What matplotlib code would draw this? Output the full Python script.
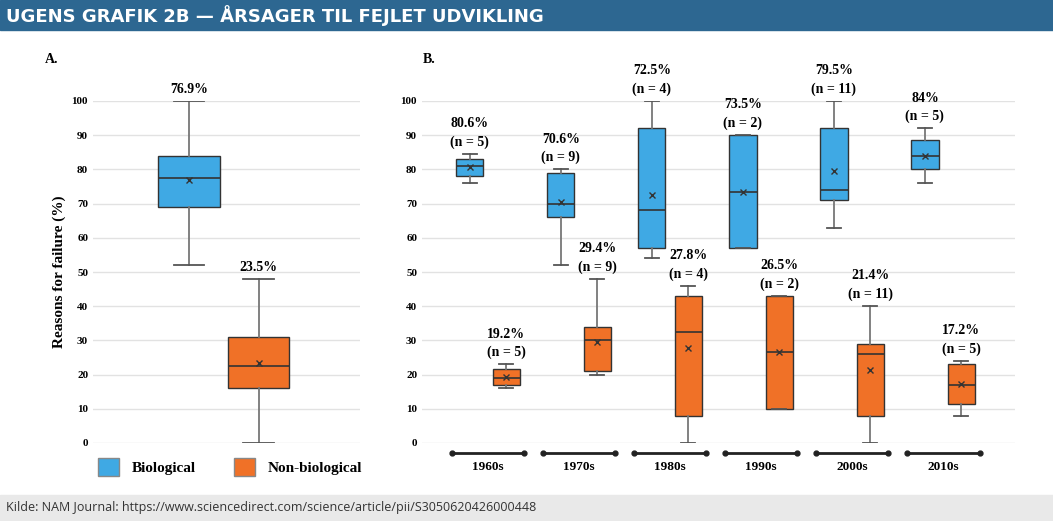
import numpy as np
import matplotlib.pyplot as plt
from matplotlib.patches import Patch, Rectangle

# panel A stats: whislo, q1, med, q3, whishi, mean
bio_all = [52, 69, 77.5, 84, 100, 76.9]
non_all = [0, 16, 22.5, 31, 48, 23.5]

decades = ["1960s", "1970s", "1980s", "1990s", "2000s", "2010s"]
bio_lo = [76, 52, 54, 57, 63, 76]
bio_q1 = [78, 66, 57, 57, 71, 80]
bio_med = [81, 70, 68, 73.5, 74, 84]
bio_q3 = [83, 79, 92, 90, 92, 88.5]
bio_hi = [84.5, 80, 100, 90, 100, 92]
bio_mean = [80.6, 70.6, 72.5, 73.5, 79.5, 84]
non_lo = [16, 20, 0, 10, 0, 8]
non_q1 = [17, 21, 8, 10, 8, 11.5]
non_med = [19, 30, 32.5, 26.5, 26, 17]
non_q3 = [21.5, 34, 43, 43, 29, 23]
non_hi = [23, 48, 46, 43, 40, 24]
non_mean = [19.2, 29.4, 27.8, 26.5, 21.4, 17.2]
n_vals = [5, 9, 4, 2, 11, 5]

BLUE = "#3fa9e4"
ORANGE = "#f07127"
SERIF = ["Liberation Serif", "DejaVu Serif"]

def stat(lo, q1, med, q3, hi, mean):
    return dict(whislo=lo, q1=q1, med=med, q3=q3, whishi=hi, mean=mean, fliers=[])

def draw(ax, stats, pos, width, color):
    ax.bxp(stats, positions=pos, widths=width, patch_artist=True, showmeans=True,
           boxprops=dict(facecolor=color, edgecolor="#333333", linewidth=1),
           medianprops=dict(color="#333333", linewidth=1.2),
           whiskerprops=dict(color="#777777", linewidth=1.3),
           capprops=dict(color="#555555", linewidth=1.3),
           meanprops=dict(marker="x", markeredgecolor="#333333", markersize=4))

def style(ax):
    ax.set_ylim(0, 100)
    ax.set_yticks(range(0, 101, 10))
    ax.grid(axis="y", color="#e2e2e2", linewidth=1)
    ax.set_axisbelow(True)
    for s in ax.spines.values():
        s.set_visible(False)
    ax.tick_params(length=0, labelsize=8)
    for t in ax.get_yticklabels():
        t.set_fontfamily(SERIF)
        t.set_fontweight("bold")
    ax.set_xticks([])

fig = plt.figure(figsize=(10.53, 5.21), dpi=100)
W, H = 1053, 521
fig.patches.append(Rectangle((0, 1 - 30 / H), 1, 30 / H, transform=fig.transFigure,
                             color="#2d6791", zorder=0))
fig.patches.append(Rectangle((0, 0), 1, 26 / H, transform=fig.transFigure,
                             color="#e9e9e9", zorder=0))
fig.text(6 / W, 1 - 16 / H, "UGENS GRAFIK 2B — ÅRSAGER TIL FEJLET UDVIKLING", color="white",
         fontsize=13, fontweight="bold", va="center",
         family=["Liberation Sans Narrow", "DejaVu Sans"])
fig.text(6 / W, 13 / H, "Kilde: NAM Journal: https://www.sciencedirect.com/science/article/pii/S3050620426000448",
         fontsize=9, va="center", color="#333333", family=["Open Sans", "DejaVu Sans"])

y0, y1 = 1 - 443 / H, 1 - 101 / H
axA = fig.add_axes([93 / W, y0, (360 - 93) / W, y1 - y0])
axB = fig.add_axes([422 / W, y0, (1015 - 422) / W, y1 - y0])

# panel A
draw(axA, [stat(*bio_all)], [0.36], 0.23, BLUE)
draw(axA, [stat(*non_all)], [0.62], 0.23, ORANGE)
axA.set_xlim(0, 1)
style(axA)
axA.set_ylabel("Reasons for failure (%)", fontsize=11, fontweight="bold", family=SERIF)
for x, s in [(0.36, bio_all), (0.62, non_all)]:
    axA.text(x, s[4] + 1.5, f"{s[5]}%", ha="center", va="bottom", fontsize=10,
             fontweight="bold", family=SERIF)
axA.text(-0.18, 111, "A.", fontsize=10, fontweight="bold", family=SERIF,
         transform=axA.transData)

# panel B
xs = np.arange(len(decades))
bstats = [stat(*v) for v in zip(bio_lo, bio_q1, bio_med, bio_q3, bio_hi, bio_mean)]
nstats = [stat(*v) for v in zip(non_lo, non_q1, non_med, non_q3, non_hi, non_mean)]
draw(axB, bstats, xs - 0.2, 0.3, BLUE)
draw(axB, nstats, xs + 0.2, 0.3, ORANGE)
axB.set_xlim(-0.725, 5.79)
style(axB)
def fmt(v):
    return f"{v:g}%"
for i in xs:
    axB.text(i - 0.2, bio_hi[i] + 1.5, f"{fmt(bio_mean[i])}\n(n = {n_vals[i]})", ha="center",
             va="bottom", fontsize=10, fontweight="bold", family=SERIF, linespacing=1.5)
    axB.text(i + 0.2, non_hi[i] + 1.5, f"{fmt(non_mean[i])}\n(n = {n_vals[i]})", ha="center",
             va="bottom", fontsize=10, fontweight="bold", family=SERIF, linespacing=1.5)
    axB.plot([i - 0.4, i + 0.4], [-3, -3], color="#222222", lw=2, marker="o", ms=3.5,
             clip_on=False)
    axB.text(i, -7, decades[i], ha="center", va="center", fontsize=9.5, fontweight="bold",
             family=SERIF)
axB.text(-0.72, 111, "B.", fontsize=10, fontweight="bold", family=SERIF)

handles = [Patch(facecolor=BLUE, edgecolor="#888888"), Patch(facecolor=ORANGE, edgecolor="#888888")]
fig.legend(handles, ["Biological", "Non-biological"], loc="center", bbox_to_anchor=(230 / W, 1 - 467 / H),
           ncol=2, frameon=False, handlelength=1.4, handleheight=1.4, columnspacing=2.5,
           prop=dict(family=SERIF, weight="bold", size=11))

fig.savefig("out.png", dpi=100)
